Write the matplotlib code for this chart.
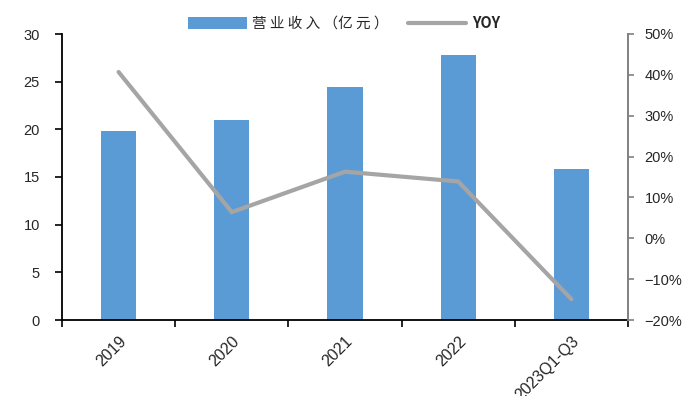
import matplotlib
matplotlib.use("Agg")
import matplotlib.pyplot as plt
from matplotlib.patches import Patch
from matplotlib.lines import Line2D
from matplotlib.ticker import FixedLocator, FuncFormatter

# Revenue (100 million CNY) and year-on-year growth (%)
categories = ["2019", "2020", "2021", "2022", "2023Q1-Q3"]
revenue = [19.8, 21.0, 24.4, 27.8, 15.8]
yoy = [40.7, 6.4, 16.3, 13.9, -14.9]

bar_color = "#5B9BD5"
line_color = "#A5A5A5"
text_color = "#262626"

fig = plt.figure(figsize=(6.83, 3.96), dpi=100)
ax = fig.add_axes([62 / 683, 1 - 320 / 396, (628 - 62) / 683, (320 - 34) / 396])
ax2 = ax.twinx()

x = list(range(len(categories)))
ax.bar(x, revenue, width=0.31, color=bar_color, zorder=2)
ax2.plot(x, yoy, color=line_color, linewidth=3.0, solid_capstyle="round",
         solid_joinstyle="miter", zorder=3)

ax.set_xlim(-0.5, len(categories) - 0.5)
ax.set_ylim(0, 30)
ax.set_yticks(range(0, 31, 5))
ax2.set_ylim(-20, 50)
ax2.set_yticks(range(-20, 51, 10))
ax2.yaxis.set_major_formatter(
    FuncFormatter(lambda v, p: f"{v:.0f}%".replace("-", "\u2212")))

# Category labels at centres, tick marks at the boundaries between them
ax.set_xticks(x)
ax.set_xticklabels(categories, rotation=45, ha="right", rotation_mode="anchor",
                   family="Liberation Sans", fontsize=11.5, color=text_color)
ax.xaxis.set_minor_locator(FixedLocator([i - 0.5 for i in range(len(categories) + 1)]))
ax.tick_params(axis="x", which="major", length=0, pad=10)
ax.tick_params(axis="x", which="minor", length=5, width=1.2, direction="out", color="black")

ax.tick_params(axis="y", length=5, width=1.2, direction="out", pad=11,
               labelsize=10.5, labelcolor=text_color, color="black")
for lab in ax.get_yticklabels():
    lab.set_family("Liberation Sans")

ax2.tick_params(axis="y", length=4, width=1.2, direction="out", pad=8,
                labelsize=10.5, labelcolor=text_color, color="#808080")
for lab in ax2.get_yticklabels():
    lab.set_family("Liberation Sans")

for a in (ax, ax2):
    a.spines["top"].set_visible(False)
ax.spines["right"].set_visible(False)
ax2.spines["left"].set_visible(False)
ax2.spines["bottom"].set_visible(False)
ax.spines["left"].set_linewidth(1.3)
ax.spines["bottom"].set_linewidth(1.3)
ax.spines["left"].set_color("black")
ax.spines["bottom"].set_color("black")
ax2.spines["right"].set_linewidth(1.4)
ax2.spines["right"].set_color("#808080")

handles = [
    Patch(facecolor=bar_color, edgecolor="none", label="营 业 收 入 （亿 元 ）"),
    Line2D([0], [0], color=line_color, linewidth=3.0, solid_capstyle="round", label="YOY"),
]
leg = fig.legend(handles=handles, loc="center", bbox_to_anchor=(0.504, 1 - 23 / 396), ncol=2,
                 frameon=False, handlelength=4.0, handleheight=0.85, handletextpad=0.4,
                 columnspacing=1.3,
                 prop={"family": ["Noto Sans CJK SC", "DejaVu Sans"], "size": 10.5},
                 labelcolor=text_color)
leg.get_texts()[1].set_fontweight("bold")

fig.savefig("out.png", dpi=100)
